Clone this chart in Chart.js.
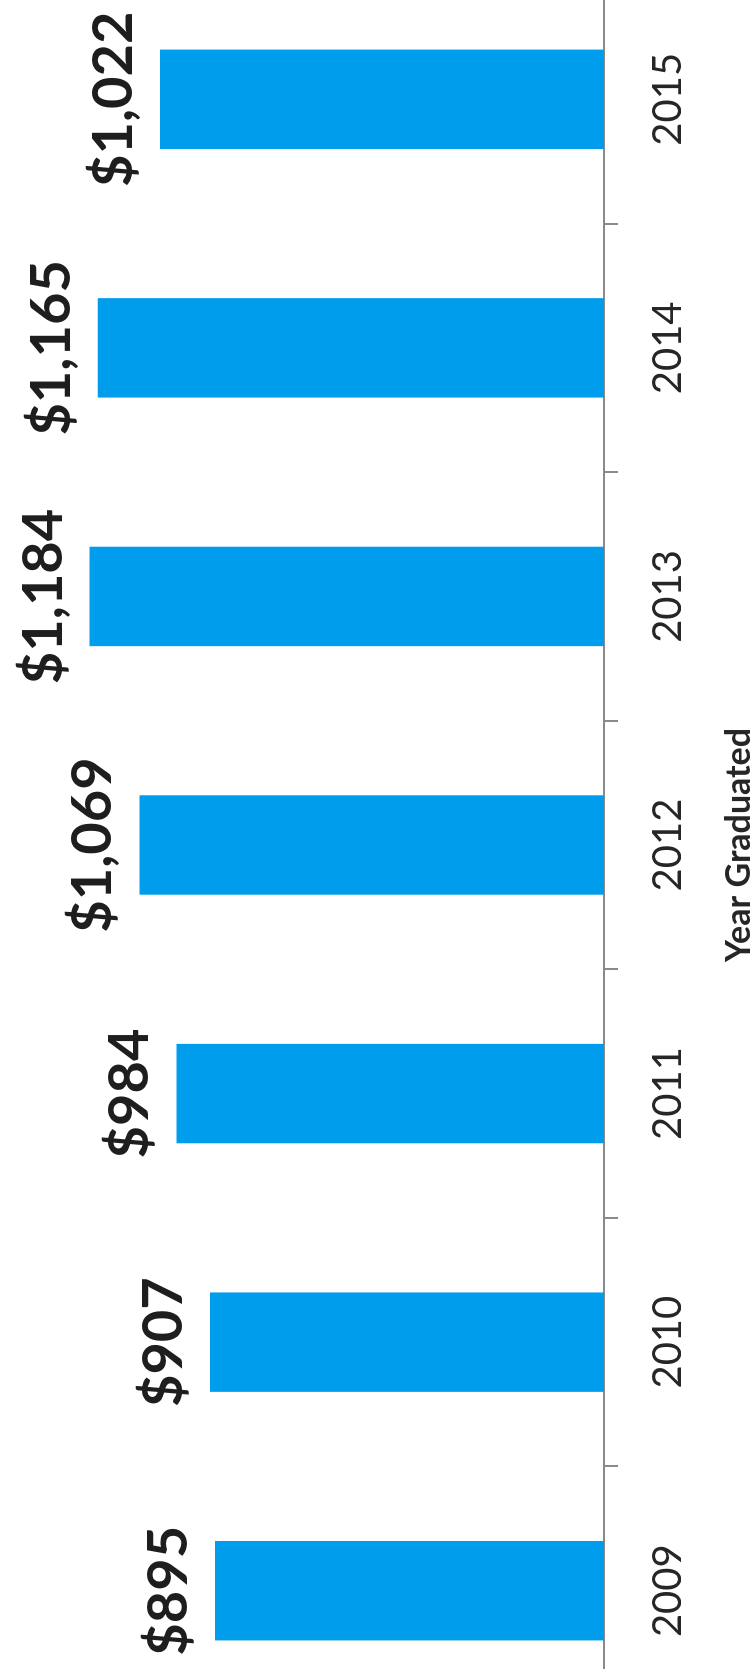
<!DOCTYPE html>
<html>
<head>
<meta charset="utf-8">
<script src="https://cdn.jsdelivr.net/npm/chart.js@4.4.1/dist/chart.umd.min.js"></script>
<style>
  html, body { margin: 0; padding: 0; background: #fff; overflow: hidden; }
  /* the chart is drawn as a normal column chart, then turned a quarter left */
  #turn {
    position: absolute; left: 0; top: 0;
    width: 1669px; height: 756px; overflow: hidden;
    transform-origin: 0 0;
    transform: translateY(1669px) rotate(-90deg);
  }
  #box { position: absolute; left: -46px; top: 0; width: 1740px; height: 756px; }
</style>
</head>
<body>
<div id="turn"><div id="box"><canvas id="gradChart"></canvas></div></div>
<script>
const YEARS = ["2009", "2010", "2011", "2012", "2013", "2014", "2015"];
const AMOUNTS = [895, 907, 984, 1069, 1184, 1165, 1022];
const AXIS_TITLE = "Year Graduated";

const BAR_COLOR = "#009DEC";
const AXIS_COLOR = "#8a8a8a";
const TEXT_COLOR = "#262626";

function formatDollar(v) {
  return "$" + v.toLocaleString("en-US");
}

const valueLabels = {
  id: "valueLabels",
  afterDatasetsDraw(chart) {
    const ctx = chart.ctx;
    const meta = chart.getDatasetMeta(0);
    ctx.save();
    ctx.font = "bold 56px Lato";
    ctx.fillStyle = "#1e1e1e";
    ctx.textAlign = "center";
    ctx.textBaseline = "alphabetic";
    meta.data.forEach((bar, i) => {
      ctx.fillText(formatDollar(AMOUNTS[i]), bar.x, bar.y - 28);
    });
    ctx.restore();
  },
};

const ctx = document.getElementById("gradChart").getContext("2d");
new Chart(ctx, {
  type: "bar",
  data: {
    labels: YEARS,
    datasets: [
      {
        data: AMOUNTS,
        backgroundColor: BAR_COLOR,
        borderWidth: 0,
        categoryPercentage: 1,
        barPercentage: 0.4,
      },
    ],
  },
  options: {
    responsive: true,
    maintainAspectRatio: false,
    devicePixelRatio: 1,
    animation: false,
    layout: { padding: 0 },
    plugins: {
      legend: { display: false },
      tooltip: { enabled: false },
    },
    scales: {
      x: {
        offset: true,
        grid: {
          display: true,
          offset: true,
          drawOnChartArea: false,
          drawTicks: true,
          tickLength: 14,
          color: AXIS_COLOR,
          lineWidth: 2,
        },
        border: { display: true, color: AXIS_COLOR, width: 2 },
        ticks: {
          color: TEXT_COLOR,
          font: { family: "Lato", size: 40 },
          padding: 26,
          maxRotation: 0,
          minRotation: 0,
        },
        title: {
          display: true,
          text: AXIS_TITLE,
          color: TEXT_COLOR,
          font: { family: "Lato", size: 34, weight: "bold", lineHeight: 1 },
          padding: { top: 4, bottom: 0 },
        },
      },
      y: {
        display: false,
        min: 0,
        max: 1390,
      },
    },
  },
  plugins: [valueLabels],
});
</script>
</body>
</html>
